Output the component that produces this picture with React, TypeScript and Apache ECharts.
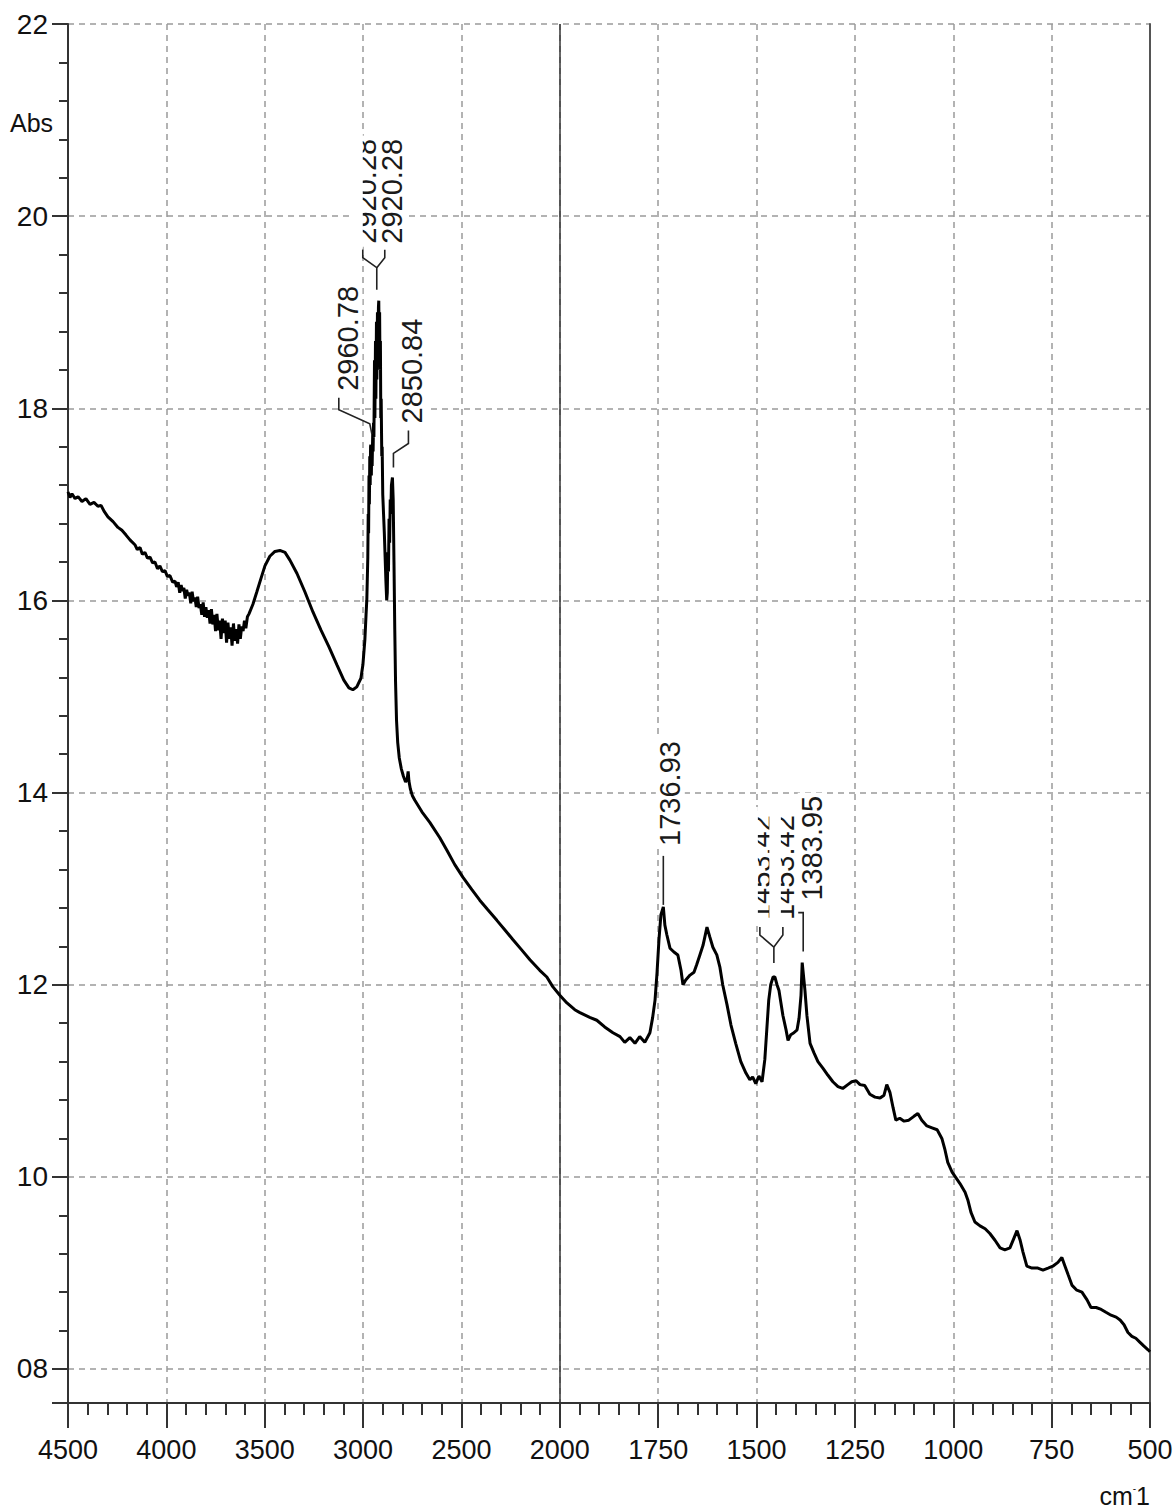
import React, { useEffect, useRef } from "react";
import * as echarts from "echarts";

// IR absorbance spectrum, [wavenumber (cm-1), absorbance]
const highRegion: [number, number][] = [
  [4500, 17.13], [4490, 17.07], [4480, 17.11], [4464, 17.06], [4449, 17.08], [4429, 17.03],
  [4409, 17.06], [4388, 17.0], [4368, 17.02], [4348, 16.98], [4332, 16.99], [4317, 16.93],
  [4297, 16.87], [4271, 16.82], [4246, 16.76], [4226, 16.73], [4205, 16.68], [4185, 16.63],
  [4160, 16.58], [4148, 16.53], [4134, 16.55], [4122, 16.48], [4109, 16.5], [4096, 16.44],
  [4083, 16.45], [4070, 16.39], [4058, 16.4], [4045, 16.33], [4033, 16.36], [4020, 16.3],
  [4007, 16.31], [3995, 16.25], [3982, 16.26], [3968, 16.19], [3956, 16.2], [3948, 16.14],
  [3940, 16.19], [3932, 16.08], [3925, 16.16], [3918, 16.1], [3911, 16.13], [3904, 16.02],
  [3897, 16.11], [3890, 16.05], [3883, 16.08], [3876, 15.97], [3869, 16.09], [3862, 15.99],
  [3855, 16.03], [3848, 15.93], [3841, 16.04], [3834, 15.92], [3827, 15.96], [3820, 15.85],
  [3813, 15.98], [3806, 15.83], [3799, 15.93], [3792, 15.82], [3785, 15.9], [3778, 15.76],
  [3771, 15.91], [3764, 15.75], [3757, 15.85], [3750, 15.68], [3743, 15.86], [3736, 15.69],
  [3729, 15.79], [3722, 15.6], [3715, 15.81], [3708, 15.66], [3701, 15.79], [3694, 15.56],
  [3687, 15.77], [3680, 15.6], [3673, 15.72], [3666, 15.53], [3659, 15.76], [3652, 15.58],
  [3645, 15.7], [3638, 15.55], [3631, 15.75], [3624, 15.6], [3617, 15.73], [3610, 15.68],
  [3603, 15.79], [3596, 15.71], [3588, 15.83], [3580, 15.86],
  [3560, 15.96], [3540, 16.09], [3519, 16.23], [3499, 16.36], [3474, 16.46], [3448, 16.51],
  [3423, 16.52], [3397, 16.5], [3372, 16.42], [3336, 16.28], [3296, 16.09], [3255, 15.88],
  [3214, 15.69], [3174, 15.52], [3133, 15.33], [3098, 15.17], [3072, 15.09], [3052, 15.07],
  [3032, 15.1], [3011, 15.19],
];

const chStretch: [number, number][] = [
  [3001, 15.33], [2991, 15.59], [2985, 15.85], [2981, 16.01], [2976, 16.45], [2974, 16.9],
  [2972, 16.7], [2970, 17.3], [2968, 17.0], [2966, 17.5], [2964, 17.2], [2962, 17.6],
  [2960.78, 17.62], [2958, 17.3], [2956, 17.6], [2954, 17.4], [2951, 17.75], [2949, 17.55],
  [2947, 17.85], [2945, 17.7], [2942, 18.5], [2940, 17.9], [2937, 18.7], [2935, 18.1],
  [2932, 18.9], [2930, 18.3], [2927, 19.0], [2925, 18.5], [2922, 19.05], [2920.28, 19.12],
  [2918, 18.6], [2916, 19.0], [2914, 18.4], [2912, 18.7], [2910, 17.9], [2908, 18.1],
  [2905, 17.5], [2903, 17.6], [2900, 17.1], [2896, 16.9], [2892, 16.7], [2888, 16.45],
  [2884, 16.2], [2880, 16.0], [2877, 16.08], [2874, 16.5], [2871, 16.3], [2868, 16.85],
  [2865, 16.6], [2862, 17.05], [2859, 16.9], [2856, 17.2], [2850.84, 17.28], [2847, 17.05],
  [2843, 16.4], [2839, 15.7], [2835, 15.15], [2830, 14.75], [2824, 14.52], [2816, 14.36],
  [2806, 14.25], [2795, 14.17], [2784, 14.11], [2776, 14.14], [2771, 14.22], [2767, 14.12],
  [2760, 14.04], [2750, 13.97],
];

const midRegion: [number, number][] = [
  [2737, 13.92], [2701, 13.8], [2661, 13.69], [2610, 13.53], [2574, 13.4], [2534, 13.25],
  [2493, 13.12], [2447, 12.99], [2407, 12.88], [2366, 12.78], [2320, 12.67], [2279, 12.57],
  [2239, 12.47], [2193, 12.36], [2152, 12.26], [2102, 12.15], [2066, 12.08], [2036, 11.98],
  [2000, 11.89],
];

const carbonylRegion: [number, number][] = [
  [1982, 11.81], [1962, 11.74], [1949, 11.71], [1924, 11.66], [1906, 11.63], [1886, 11.56],
  [1865, 11.5], [1847, 11.46], [1835, 11.4], [1822, 11.45], [1809, 11.39], [1797, 11.46],
  [1784, 11.4], [1771, 11.5], [1764, 11.66], [1758, 11.84], [1753, 12.12], [1748, 12.47],
  [1743, 12.73], [1736.93, 12.81], [1733, 12.62], [1728, 12.52], [1720, 12.38], [1710, 12.34],
  [1700, 12.31], [1692, 12.15], [1687, 12.0], [1680, 12.05], [1669, 12.1], [1659, 12.13],
  [1652, 12.21], [1644, 12.31], [1636, 12.41], [1626, 12.6], [1619, 12.5], [1611, 12.39],
  [1601, 12.31], [1593, 12.18], [1586, 12.0], [1575, 11.79], [1565, 11.58], [1553, 11.39],
  [1540, 11.2], [1527, 11.08], [1517, 11.01], [1510, 11.04], [1502, 10.97], [1494, 11.05],
  [1486, 10.99], [1479, 11.22], [1474, 11.53], [1469, 11.84], [1464, 12.0], [1458, 12.08],
  [1453.42, 12.08], [1448, 12.0], [1443, 11.94], [1438, 11.81], [1433, 11.68], [1425, 11.53],
  [1420, 11.42], [1413, 11.48], [1405, 11.5], [1397, 11.53], [1392, 11.65], [1387, 11.89],
  [1383.95, 12.23], [1377, 11.94], [1372, 11.68], [1364, 11.39], [1354, 11.29], [1344, 11.2],
  [1331, 11.13], [1319, 11.06], [1306, 10.99],
];

const fingerprintRegion: [number, number][] = [
  [1293, 10.94], [1281, 10.92], [1268, 10.96], [1258, 10.99], [1247, 11.0], [1237, 10.96],
  [1225, 10.95], [1212, 10.86], [1199, 10.83], [1186, 10.82], [1176, 10.85], [1169, 10.96],
  [1161, 10.88], [1153, 10.72], [1146, 10.59], [1136, 10.61], [1125, 10.58], [1113, 10.59],
  [1100, 10.63], [1090, 10.66], [1080, 10.59], [1067, 10.53], [1054, 10.51], [1041, 10.49],
  [1029, 10.4], [1021, 10.28], [1014, 10.15], [1003, 10.05], [993, 9.99], [983, 9.93],
  [970, 9.84], [963, 9.76], [955, 9.63], [945, 9.53], [932, 9.49], [919, 9.46], [907, 9.41],
  [894, 9.34], [881, 9.26], [869, 9.24], [856, 9.26], [846, 9.36], [838, 9.44], [830, 9.34],
  [823, 9.22], [813, 9.07], [800, 9.05], [785, 9.05], [772, 9.03], [759, 9.05], [747, 9.07],
  [734, 9.11], [724, 9.16], [716, 9.07], [708, 8.98], [698, 8.87], [686, 8.82], [673, 8.8],
  [660, 8.72], [650, 8.64], [637, 8.64], [624, 8.62], [612, 8.59], [599, 8.56], [586, 8.54],
  [576, 8.51], [566, 8.46], [556, 8.38], [546, 8.34], [536, 8.32], [526, 8.28], [516, 8.24],
  [505, 8.2], [500, 8.18],
];

// Tick labels of the wavenumber axis (scale doubles below 2000 cm-1)
const xTickLabels = ["4500", "4000", "3500", "3000", "2500", "2000", "1750", "1500", "1250", "1000", "750", "500"];

// Picked peaks
const peakWavenumbers = [2960.78, 2920.28, 2850.84, 1736.93, 1453.42, 1383.95];
const peakAbsorbance = [17.62, 19.12, 17.28, 12.81, 12.08, 12.23];

// Callout layout for each peak: text columns (offset, clipped), text base offset, leader polylines
const calloutLayout = [
  { texts: [{ dx: -23, clip: false }], dy: -51, leaders: [[[-32, -47], [-32, -35], [-1, -21], [1, -11]]] },
  {
    texts: [{ dx: -13, clip: true }, { dx: 13, clip: false }], dy: -54,
    leaders: [[[-16, -51], [-16, -43], [-2, -33], [-2, -11]], [[6, -51], [6, -43], [-2, -33]]],
  },
  { texts: [{ dx: 20, clip: false }], dy: -51, leaders: [[[16, -47], [16, -34], [1, -24], [1, -10]]] },
  { texts: [{ dx: 7, clip: false }], dy: -58, leaders: [[[0, -51], [0, -2]]] },
  {
    texts: [{ dx: -14, clip: true }, { dx: 9, clip: true }], dy: -54,
    leaders: [[[-15, -50], [-15, -42], [-1, -30], [-1, -14]], [[8, -50], [8, -42], [-1, -30]]],
  },
  { texts: [{ dx: 10, clip: false }], dy: -59, leaders: [[[-4, -50], [1, -50], [1, -11]]] },
];

// Piecewise axis position: 500 cm-1 per division above 2000, 250 cm-1 per division below
const toAxis = (wn: number) => (wn >= 2000 ? (4500 - wn) / 500 : 5 + (2000 - wn) / 250);

const AXIS_FONT = '"Liberation Sans", Arial, sans-serif';
const AXIS_COLOR = "#333";
const GRID_COLOR = "#9a9a9a";

export default function App() {
  const ref = useRef<HTMLDivElement>(null);

  useEffect(() => {
    if (!ref.current) return;
    const chart = echarts.init(ref.current, null, { renderer: "svg" });

    const spectrum = [...highRegion, ...chStretch, ...midRegion, ...carbonylRegion, ...fingerprintRegion].map(
      ([wn, a]) => [toAxis(wn), a]
    );

    chart.setOption({
      animation: false,
      backgroundColor: "#fff",
      grid: { left: 68, right: 26, top: 24, bottom: 107, containLabel: false },
      xAxis: {
        type: "value",
        min: 0,
        max: 11,
        interval: 1,
        axisLine: { show: true, lineStyle: { color: AXIS_COLOR, width: 2 } },
        axisTick: { show: true, length: 25, lineStyle: { color: AXIS_COLOR, width: 2 } },
        minorTick: { show: true, splitNumber: 5, length: 12, lineStyle: { color: AXIS_COLOR, width: 2 } },
        axisLabel: {
          margin: 33,
          fontSize: 27,
          fontFamily: AXIS_FONT,
          color: "#111",
          formatter: (v: number) => xTickLabels[Math.round(v)] ?? "",
        },
        splitLine: { show: true, lineStyle: { color: GRID_COLOR, width: 1.5, type: [6, 5] } },
      },
      yAxis: [
        {
          type: "value",
          min: 7.646,
          max: 22,
          splitNumber: 7,
          axisLine: { show: true, lineStyle: { color: AXIS_COLOR, width: 2 } },
          axisTick: { show: true, length: 16, lineStyle: { color: AXIS_COLOR, width: 2 } },
          minorTick: { show: true, splitNumber: 5, length: 9, lineStyle: { color: AXIS_COLOR, width: 2 } },
          axisLabel: {
            margin: 20,
            fontSize: 28,
            fontFamily: AXIS_FONT,
            color: "#111",
            formatter: (v: number) => {
              const r = Math.round(v);
              if (Math.abs(v - r) > 1e-6 || r % 2 !== 0) return "";
              return String(r).padStart(2, "0");
            },
          },
          splitLine: { show: true, lineStyle: { color: GRID_COLOR, width: 1.5, type: [6, 5] } },
        },
        {
          type: "value",
          position: "right",
          min: 7.646,
          max: 22,
          splitNumber: 7,
          axisLine: { show: true, lineStyle: { color: "#555", width: 2 } },
          axisTick: { show: false },
          axisLabel: { show: false },
          splitLine: { show: false },
        },
      ],
      series: [
        {
          type: "line",
          data: spectrum,
          showSymbol: false,
          symbol: "none",
          lineStyle: { color: "#000", width: 3 },
          z: 5,
          markLine: {
            silent: true,
            symbol: "none",
            label: { show: false },
            lineStyle: { color: AXIS_COLOR, width: 1.5, type: "solid" },
            data: [{ xAxis: toAxis(2000) }],
          },
        },
      ],
    });

    const graphics: any[] = [
      {
        type: "text",
        x: 10,
        y: 123,
        z: 50,
        style: { text: "Abs", font: `25px ${AXIS_FONT}`, fill: "#111", align: "left", verticalAlign: "middle" },
      },
      {
        type: "text",
        x: 1150,
        y: 1496,
        z: 50,
        style: {
          text: "{a|cm}{b|-}{a|1}",
          rich: {
            a: { fontSize: 25, fontFamily: AXIS_FONT, fill: "#111" },
            b: { fontSize: 10, fontFamily: AXIS_FONT, fill: "#111", verticalAlign: "top" },
          },
          align: "right",
          verticalAlign: "middle",
        },
      },
    ];

    peakWavenumbers.forEach((wn, i) => {
      const [px, py] = chart.convertToPixel({ gridIndex: 0 }, [toAxis(wn), peakAbsorbance[i]]) as number[];
      const layout = calloutLayout[i];
      const label = wn.toFixed(2);
      layout.texts.forEach((t) => {
        graphics.push({
          type: "text",
          x: px + t.dx,
          y: py + layout.dy,
          rotation: Math.PI / 2,
          z: 60,
          style: {
            text: label,
            font: '29px "Liberation Sans", Arial, sans-serif',
            fill: "#1a1a1a",
            align: "left",
            verticalAlign: "middle",
            backgroundColor: "#fff",
            padding: [0, 3],
          },
        });
        if (t.clip) {
          graphics.push({
            type: "rect",
            z: 70,
            shape: { x: px + t.dx - 14, y: py + layout.dy - 116, width: 11, height: 118 },
            style: { fill: "#fff" },
          });
        }
      });
      layout.leaders.forEach((pts) => {
        graphics.push({
          type: "polyline",
          z: 60,
          shape: { points: pts.map(([dx, dy]) => [px + dx, py + dy]) },
          style: { stroke: "#222", lineWidth: 1.6, fill: null },
        });
      });
    });

    chart.setOption({ graphic: graphics });

    return () => chart.dispose();
  }, []);

  return <div ref={ref} style={{ position: "absolute", left: 0, top: 0, width: 1176, height: 1510 }} />;
}
